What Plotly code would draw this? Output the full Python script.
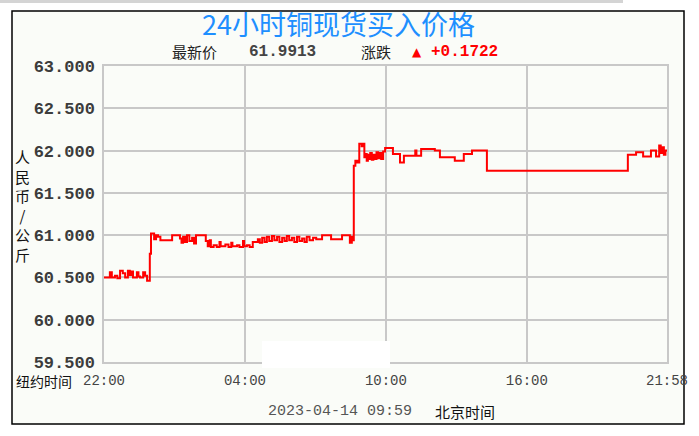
import plotly.graph_objects as go

# price series (New York clock time, step data)
times = [
    "22:00", "22:15", "22:20", "22:28", "22:34", "22:41", "22:48", "22:54", "23:01", "23:06",
    "23:10", "23:14", "23:24", "23:28", "23:32", "23:40", "23:45", "23:50", "23:57", "00:00",
    "00:08", "00:13", "00:18", "00:24", "00:54", "01:14", "01:18", "01:22", "01:27", "01:32",
    "01:38", "01:45", "01:50", "01:55", "02:20", "02:25", "02:30", "02:33", "02:40", "02:48",
    "02:55", "02:58", "03:10", "03:18", "03:25", "03:28", "03:40", "03:46", "03:55", "03:58",
    "04:05", "04:12", "04:20", "04:33", "04:38", "04:44", "04:50", "04:56", "05:02", "05:09",
    "05:15", "05:22", "05:28", "05:35", "05:41", "05:47", "05:53", "06:00", "06:06", "06:13",
    "06:19", "06:26", "06:32", "06:38", "06:45", "06:54", "07:02", "07:17", "07:40", "08:08",
    "08:28", "08:33", "08:36", "08:38", "08:42", "08:47", "08:52", "08:58", "09:02", "09:05",
    "09:08", "09:11", "09:14", "09:17", "09:20", "09:24", "09:28", "09:32", "09:36", "09:40",
    "09:44", "09:48", "09:53", "09:58", "10:18", "10:36", "10:46", "11:15", "11:18", "11:30",
    "12:05", "12:18", "12:56", "13:19", "13:40", "14:18", "20:18", "20:39", "20:57", "21:17",
    "21:30", "21:38", "21:42", "21:46", "21:50", "21:54", "21:58",
]
prices = [
    60.50, 60.56, 60.50, 60.52, 60.49, 60.58, 60.55, 60.50, 60.58, 60.53,
    60.57, 60.50, 60.56, 60.51, 60.50, 60.56, 60.52, 60.46, 60.78, 61.02,
    60.95, 61.00, 60.98, 60.94, 61.00, 60.96, 60.91, 60.98, 60.92, 61.00,
    60.93, 60.97, 60.90, 61.00, 60.93, 60.87, 60.94, 60.86, 60.88, 60.86,
    60.92, 60.87, 60.89, 60.86, 60.91, 60.87, 60.88, 60.86, 60.93, 60.87,
    60.88, 60.86, 60.92, 60.95, 60.91, 60.97, 60.92, 60.98, 60.93, 60.99,
    60.94, 60.98, 60.92, 60.97, 60.93, 60.99, 60.94, 60.97, 60.92, 60.98,
    60.93, 60.96, 60.92, 60.98, 60.94, 60.97, 60.95, 61.00, 60.95, 61.00,
    60.91, 60.98, 60.94, 61.82, 61.88, 61.86, 62.08, 62.05, 62.08, 61.92,
    61.96, 61.88, 61.95, 61.90, 61.97, 61.89, 61.95, 61.90, 61.98, 61.91,
    61.97, 61.90, 61.99, 62.03, 61.96, 61.86, 61.94, 62.00, 61.94, 62.02,
    62.00, 61.92, 61.88, 61.96, 62.00, 61.76, 61.95, 61.98, 61.93, 62.00,
    61.93, 62.06, 61.97, 62.04, 61.95, 62.00, 61.99,
]

tick_times = ["22:00", "04:00", "10:00", "16:00", "21:58"]
y_ticks = [59.5, 60.0, 60.5, 61.0, 61.5, 62.0, 62.5, 63.0]


def to_dt(hhmm):
    day = "2023-04-13" if int(hhmm[:2]) >= 22 else "2023-04-14"
    return f"{day} {hhmm}"


# plot area in pixels
L, R, T, B = 104, 667, 66, 362


def px_x(x):
    return (x - L) / (R - L)


def px_y(y):
    return (B - y) / (B - T)


BG = "#fafcf8"
CJK = "Noto Sans CJK SC"
MONO = "Liberation Mono"

fig = go.Figure()
fig.add_trace(go.Scatter(
    x=[to_dt(t) for t in times],
    y=prices,
    mode="lines",
    line=dict(color="#ff0000", width=2, shape="hv"),
    showlegend=False,
    hoverinfo="skip",
))

fig.update_layout(
    width=699,
    height=436,
    margin=dict(l=L, r=699 - R, t=T, b=436 - B),
    paper_bgcolor="white",
    plot_bgcolor=BG,
    xaxis=dict(
        range=[to_dt(tick_times[0]), to_dt(tick_times[-1])],
        tickvals=[to_dt(t) for t in tick_times],
        ticktext=tick_times,
        tickfont=dict(family=MONO, size=14, color="#444"),
        showgrid=True, gridcolor="#c8c8c8", gridwidth=1.5,
        showline=True, linecolor="#c8c8c8", linewidth=1.5, mirror=True,
        zeroline=False, ticks="", ticklabelstandoff=4,
    ),
    yaxis=dict(
        range=[59.5, 63.0],
        tickvals=y_ticks,
        tickformat=".3f",
        tickfont=dict(family=MONO, size=17, color="#3c3c3c", weight="bold"),
        showgrid=True, gridcolor="#c8c8c8", gridwidth=1.5,
        showline=True, linecolor="#c8c8c8", linewidth=1.5, mirror=True,
        zeroline=False, ticks="", ticklabelstandoff=4,
    ),
    shapes=[
        dict(type="rect", xref="paper", yref="paper",
             x0=px_x(12), x1=px_x(684), y0=px_y(424), y1=px_y(11),
             line=dict(color="black", width=1.5), fillcolor=BG, layer="below"),
        dict(type="rect", xref="paper", yref="paper",
             x0=px_x(0), x1=px_x(623), y0=px_y(3), y1=px_y(0),
             line=dict(width=0), fillcolor="#d4d4d4", layer="below"),
        dict(type="rect", xref="paper", yref="paper",
             x0=px_x(262), x1=px_x(390), y0=px_y(368), y1=px_y(341),
             line=dict(width=0), fillcolor="white", layer="above"),
    ],
)


def note(text, x, y, size, color="#222", family=CJK, **kw):
    fig.add_annotation(
        text=text, x=px_x(x), y=px_y(y), xref="paper", yref="paper",
        showarrow=False, font=dict(family=family, size=size, color=color, **kw),
        xanchor="center", yanchor="middle",
    )


note("24小时铜现货买入价格", 338, 23, 27, color="#1e8fff")
note("最新价", 194, 52, 15)
note("61.9913", 282, 52, 16, color="#444", family=MONO, weight="bold")
note("涨跌", 376, 52, 15)
note("▲", 417, 52, 12, color="#ff0000", family="DejaVu Sans")
note("+0.1722", 464, 52, 16, color="#ff0000", family=MONO, weight="bold")
note("人<br>民<br>币<br>/<br>公<br>斤", 22, 205, 15, color="#111")
note("纽约时间", 44, 381, 14, color="#111")
note("2023-04-14 09:59", 340, 411, 15, color="#555", family=MONO)
note("北京时间", 465, 411, 15, color="#111")

# page body margin off so the figure sits at the window's corner
fig.write_html("out.html", config={"displayModeBar": False},
               post_script="document.body.style.margin='0';")
